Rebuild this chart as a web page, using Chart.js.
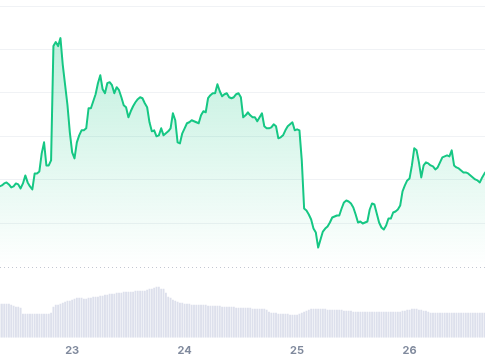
<!DOCTYPE html>
<html>
<head>
<meta charset="utf-8">
<script src="https://cdn.jsdelivr.net/npm/chart.js@4.4.1/dist/chart.umd.min.js"></script>
<style>
  html, body { margin: 0; padding: 0; background: #fff; }
  #wrap { width: 485px; height: 360px; }
</style>
</head>
<body>
<div id="wrap"><canvas id="priceChart"></canvas></div>
<script>
// half-hourly samples, hours counted from day 22 00:00
const startHour = 8.5;
const stepHours = 0.5;

const prices = [
  124.0, 124.3, 124.9, 125.2, 124.6, 123.7, 124.0, 124.9, 124.6, 123.4,
  124.9, 127.3, 125.2, 124.0, 123.1, 127.9, 127.9, 128.5, 133.9, 137.2,
  130.3, 130.3, 131.8, 166.0, 167.2, 166.0, 168.4, 160.3, 154.3, 148.3,
  140.2, 134.2, 132.4, 137.2, 139.3, 140.8, 140.8, 141.4, 147.4, 147.4,
  149.5, 151.6, 154.9, 157.3, 153.1, 151.9, 154.9, 155.2, 154.3, 151.9,
  153.7, 152.8, 150.7, 148.3, 147.7, 144.7, 146.5, 148.0, 149.2, 150.1,
  150.7, 150.4, 148.9, 147.7, 143.2, 140.5, 140.8, 139.0, 139.3, 141.4,
  139.3, 139.9, 140.5, 141.4, 145.9, 143.8, 137.2, 136.9, 139.9, 141.4,
  142.9, 143.2, 143.8, 143.5, 143.2, 142.9, 145.3, 146.5, 146.2, 150.4,
  151.3, 151.9, 151.9, 154.6, 152.5, 151.0, 151.6, 151.9, 150.7, 150.4,
  150.7, 151.6, 151.9, 150.7, 144.7, 145.3, 146.2, 145.3, 144.7, 144.7,
  143.5, 144.7, 145.9, 142.0, 141.4, 141.4, 141.7, 142.6, 142.0, 138.4,
  138.7, 139.3, 140.8, 142.0, 142.6, 143.2, 140.8, 141.1, 140.8, 131.8,
  117.4, 116.8, 115.6, 114.1, 111.4, 110.2, 105.7, 108.1, 110.5, 111.4,
  112.0, 113.2, 114.7, 115.0, 115.3, 115.3, 117.4, 119.2, 119.8, 119.5,
  118.9, 117.7, 115.6, 113.2, 113.5, 112.9, 113.2, 113.5, 117.1, 118.9,
  118.6, 115.9, 113.2, 111.7, 111.1, 112.3, 114.4, 114.4, 116.2, 116.5,
  117.1, 118.3, 122.5, 124.3, 125.8, 126.4, 130.3, 135.4, 134.8, 131.2,
  126.7, 130.3, 131.2, 130.9, 130.3, 130.0, 129.1, 129.7, 131.2, 132.7,
  133.0, 133.3, 133.0, 134.8, 130.3, 129.7, 129.4, 128.8, 128.2, 128.2,
  127.9, 127.3, 126.7, 126.1, 125.8, 125.2, 126.7, 127.9, 128.8
];

const volumes = [
  34, 34, 34, 34, 34, 33, 32, 31, 31, 30,
  24, 24, 24, 24, 24, 24, 24, 24, 24, 24,
  24, 24, 25, 31, 33, 33, 34, 35, 36, 37,
  37, 38, 39, 40, 40, 40, 39, 39, 40, 40,
  41, 41, 41, 42, 42, 43, 43, 44, 44, 44,
  45, 45, 45, 46, 46, 46, 46, 46, 47, 47,
  47, 47, 47, 48, 49, 49, 50, 51, 51, 49,
  49, 45, 41, 40, 38, 37, 36, 35, 35, 34,
  34, 34, 33, 33, 33, 33, 33, 33, 33, 32,
  32, 32, 32, 32, 32, 31, 31, 31, 31, 31,
  31, 30, 30, 30, 30, 30, 30, 30, 29, 29,
  29, 29, 29, 29, 28, 26, 25, 25, 25, 24,
  24, 24, 24, 24, 23, 23, 23, 23, 24, 25,
  26, 27, 28, 29, 29, 29, 29, 29, 29, 29,
  28, 28, 28, 28, 28, 28, 28, 27, 27, 27,
  27, 26, 26, 26, 26, 26, 26, 26, 26, 26,
  26, 26, 26, 26, 26, 26, 26, 26, 26, 26,
  26, 26, 27, 27, 28, 28, 29, 29, 29, 28,
  28, 27, 27, 26, 25, 25, 25, 25, 25, 25,
  25, 25, 25, 25, 25, 25, 25, 25, 25, 25,
  25, 25, 25, 25, 25, 25, 25, 25, 25
];

const dayTicks = [24, 48, 72, 96];
const dayLabels = ['23', '24', '25', '26'];
const priceGrid = [113, 126, 139, 152, 165, 178];
const priceBase = 100;

const hours = prices.map((p, i) => startHour + i * stepHours);

// dotted separator between price area and volume bars
const baseLine = {
  id: 'baseLine',
  beforeDatasetsDraw(chart) {
    const { ctx, chartArea, scales } = chart;
    const y = Math.round(scales.y.getPixelForValue(priceBase)) + 0.5;
    ctx.save();
    ctx.strokeStyle = '#c3c7d1';
    ctx.lineWidth = 1;
    ctx.setLineDash([1, 3]);
    ctx.beginPath();
    ctx.moveTo(chartArea.left, y);
    ctx.lineTo(chartArea.right, y);
    ctx.stroke();
    ctx.restore();
  }
};

const ctx = document.getElementById('priceChart').getContext('2d');
const priceChart = new Chart(ctx, {
  type: 'line',
  data: {
    labels: hours,
    datasets: [{
      type: 'line',
      label: 'Price',
      data: prices,
      yAxisID: 'y',
      borderColor: '#16c784',
      borderWidth: 2,
      borderJoinStyle: 'round',
      pointRadius: 0,
      tension: 0,
      fill: { value: priceBase },
      backgroundColor: (c) => {
        const chart = c.chart;
        if (!chart.chartArea) return 'rgba(22,199,132,0.15)';
        const bottom = chart.scales.y.getPixelForValue(priceBase);
        const g = chart.ctx.createLinearGradient(0, chart.chartArea.top, 0, bottom);
        g.addColorStop(0, 'rgba(22,199,132,0.32)');
        g.addColorStop(1, 'rgba(22,199,132,0.0)');
        return g;
      },
      order: 0
    }, {
      type: 'bar',
      label: 'Volume',
      data: volumes,
      yAxisID: 'y1',
      backgroundColor: '#dde0ec',
      borderWidth: 0,
      categoryPercentage: 1,
      barPercentage: 0.8,
      order: 1
    }]
  },
  options: {
    responsive: true,
    maintainAspectRatio: false,
    animation: false,
    layout: { padding: { left: 0, right: 0, top: 0, bottom: -3 } },
    plugins: {
      legend: { display: false },
      tooltip: { enabled: false }
    },
    scales: {
      x: {
        type: 'linear',
        min: 8.6,
        max: 112.1,
        offset: false,
        grid: { display: false, drawTicks: false },
        border: { display: false },
        afterBuildTicks: (scale) => {
          scale.ticks = dayTicks.map(v => ({ value: v }));
        },
        ticks: {
          autoSkip: false,
          maxRotation: 0,
          padding: 6,
          color: '#808a9d',
          font: { family: 'Inter', size: 11, weight: '700' },
          callback: (v) => dayLabels[dayTicks.indexOf(v)]
        }
      },
      y: {
        min: 78.7,
        max: 179.8,
        position: 'left',
        border: { display: false },
        grid: { color: '#f0f2f5', drawTicks: false },
        afterBuildTicks: (scale) => {
          scale.ticks = priceGrid.map(v => ({ value: v }));
        },
        ticks: { display: false }
      },
      y1: {
        display: false,
        min: 0,
        max: 337  // bars fill only the strip under the price area
      }
    }
  },
  plugins: [baseLine]
});
</script>
</body>
</html>
